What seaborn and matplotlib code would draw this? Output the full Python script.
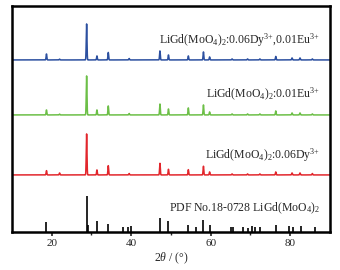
import numpy as np
import pandas as pd
import matplotlib
matplotlib.use("Agg")
import matplotlib.pyplot as plt
import seaborn as sns

# reference pattern (PDF No.18-0728) : 2theta and stick heights
pdf_pos = [18.7, 28.8, 29.2, 31.4, 34.25, 37.9, 39.2, 39.9, 47.25, 49.4, 54.4, 56.3,
           58.2, 59.75, 65.1, 65.75, 68.1, 69.3, 70.5, 71.3, 72.4, 76.4, 79.75,
           80.75, 82.7, 86.4]
pdf_int = [9.7, 36, 6.7, 11, 7.7, 5.3, 5.3, 6, 14.3, 11, 7.3, 4.7,
           12, 7, 4.7, 4.7, 5, 4.3, 5.7, 4.7, 5, 7.3, 5.7,
           5, 5.7, 5]

# measured peaks of the samples
peak_pos = [18.7, 22.0, 28.8, 31.4, 34.25, 39.5, 47.25, 49.4, 54.4, 58.2, 59.75,
            65.4, 69.3, 72.4, 76.4, 80.5, 82.5, 85.6]
dy_eu_int = [6, 0.8, 36, 4, 7.5, 1.5, 9, 5, 4, 8, 3, 1, 1, 1, 3.5, 2, 2, 1]
eu_int = [5, 0.8, 39, 5, 9, 1.5, 11, 6, 7, 10, 3, 1, 1, 1, 4, 2, 2, 1]
dy_int = [4.3, 2, 41, 5, 9.3, 1.5, 11.7, 5.7, 5.3, 8.7, 3, 1, 1, 1, 3, 2, 2, 1.5]

offsets = {"dy_eu": 172, "eu": 117, "dy": 57}
colors = {"dy_eu": "#2c50a0", "eu": "#6cbf47", "dy": "#e2262c"}
labels = {
    "dy_eu": r"LiGd(MoO$_4$)$_2$:0.06Dy$^{3{+}}$,0.01Eu$^{3{+}}$",
    "eu": r"LiGd(MoO$_4$)$_2$:0.01Eu$^{3{+}}$",
    "dy": r"LiGd(MoO$_4$)$_2$:0.06Dy$^{3{+}}$",
}
label_y = {"dy_eu": 192, "eu": 137, "dy": 77}

sns.set_style("ticks")
plt.rcParams["font.family"] = ["Liberation Serif", "DejaVu Serif"]
plt.rcParams["mathtext.fontset"] = "custom"
plt.rcParams["mathtext.rm"] = "Liberation Serif"
plt.rcParams["mathtext.it"] = "Liberation Serif:italic"

two_theta = np.arange(10, 90.001, 0.02)


def profile(heights):
    y = np.zeros_like(two_theta)
    for p, h in zip(peak_pos, heights):
        y += h * np.exp(-0.5 * ((two_theta - p) / 0.09) ** 2)
    return y


rows = []
for key, h in [("dy_eu", dy_eu_int), ("eu", eu_int), ("dy", dy_int)]:
    rows.append(pd.DataFrame({"x": two_theta, "y": profile(h) + offsets[key], "s": key}))
df = pd.concat(rows)

fig, ax = plt.subplots(figsize=(3.4, 2.7), dpi=100)
fig.subplots_adjust(left=0.035, right=0.97, bottom=0.141, top=0.978)

sns.lineplot(data=df, x="x", y="y", hue="s", palette=colors, lw=1.1,
             legend=False, ax=ax, estimator=None)
ax.vlines(pdf_pos, 0, pdf_int, color="black", lw=1.2)

for key in ["dy_eu", "eu", "dy"]:
    ax.text(87.6, label_y[key], labels[key], ha="right", va="center", fontsize=8.5)
ax.text(87.6, 24, r"PDF No.18-0728 LiGd(MoO$_4$)$_2$", ha="right", va="center", fontsize=8.5)

ax.set_xlim(10, 90)
ax.set_ylim(0, 226)
ax.set_yticks([])
ax.set_xticks([20, 40, 60, 80])
ax.set_xticks([30, 50, 70], minor=True)
ax.tick_params(axis="x", which="major", length=3, width=1.2, labelsize=8, pad=2)
ax.tick_params(axis="x", which="minor", length=2, width=1.0)
ax.set_xlabel(r"2$\it{\theta}$ / (°)", fontsize=8.5, labelpad=2)
ax.set_ylabel("")
for sp in ax.spines.values():
    sp.set_linewidth(1.8)
    sp.set_color("black")
    sp.set_visible(True)

plt.savefig("out.png", dpi=100)
